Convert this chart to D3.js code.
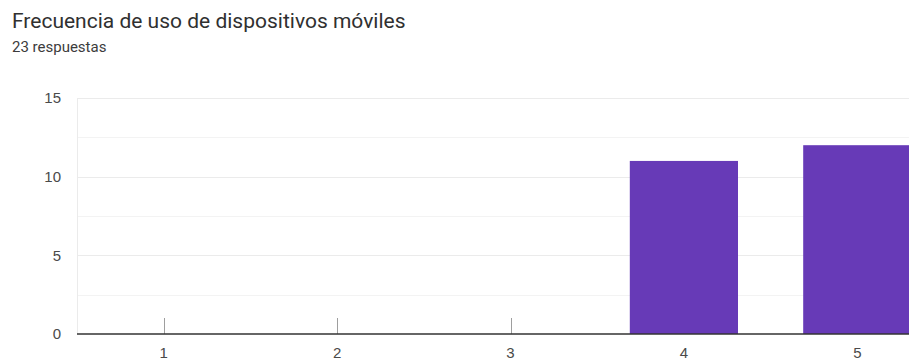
<!DOCTYPE html>
<html lang="es">
<head>
<meta charset="utf-8">
<script src="https://cdn.jsdelivr.net/npm/d3@7"></script>
<style>
  html, body { margin: 0; padding: 0; background: #fff; }
  svg { display: block; }
</style>
</head>
<body>
<svg id="chart" width="910" height="360"></svg>
<script>
// Survey answers: scale 1–5 and number of responses for each
const categories = ["1", "2", "3", "4", "5"];
const counts = [0, 0, 0, 11, 12];
const yTicks = [0, 5, 10, 15];
const yMinorTicks = [2.5, 7.5, 12.5];
const titleText = "Frecuencia de uso de dispositivos móviles";
const subtitleText = "23 respuestas";

const W = 910, H = 360;
const plot = { left: 77, top: 98, bottom: 334, right: 944 };
const clipRight = 909;

const svg = d3.select("#chart");

svg.append("text")
  .attr("x", 12).attr("y", 28)
  .attr("font-family", "Roboto, 'Noto Sans', sans-serif")
  .attr("font-size", 21)
  .attr("fill", "#303030")
  .text(titleText);

svg.append("text")
  .attr("x", 12).attr("y", 52)
  .attr("font-family", "Roboto, 'Noto Sans', sans-serif")
  .attr("font-size", 15)
  .attr("fill", "#3c3c3c")
  .text(subtitleText);

const x = d3.scaleBand()
  .domain(categories)
  .range([plot.left, plot.right])
  .paddingInner(0.376)
  .paddingOuter(0.188);

const y = d3.scaleLinear()
  .domain([0, 15])
  .range([plot.bottom, plot.top]);

svg.append("defs").append("clipPath").attr("id", "plotClip")
  .append("rect")
  .attr("x", plot.left).attr("y", 0)
  .attr("width", clipRight - plot.left).attr("height", H);

const g = svg.append("g").attr("clip-path", "url(#plotClip)");

// minor gridlines
g.selectAll("line.minor").data(yMinorTicks).join("line")
  .attr("class", "minor")
  .attr("x1", plot.left).attr("x2", clipRight)
  .attr("y1", d => Math.round(y(d)) + 0.5).attr("y2", d => Math.round(y(d)) + 0.5)
  .attr("stroke", "#f3f3f3").attr("stroke-width", 1);

// major gridlines
g.selectAll("line.major").data(yTicks.filter(d => d > 0)).join("line")
  .attr("class", "major")
  .attr("x1", plot.left).attr("x2", clipRight)
  .attr("y1", d => Math.round(y(d)) + 0.5).attr("y2", d => Math.round(y(d)) + 0.5)
  .attr("stroke", "#ebebeb").attr("stroke-width", 1);

// faint left frame line
g.append("line")
  .attr("x1", plot.left + 0.5).attr("x2", plot.left + 0.5)
  .attr("y1", y(15)).attr("y2", plot.bottom)
  .attr("stroke", "#ebebeb");

// category tick marks
g.selectAll("line.cat").data(categories).join("line")
  .attr("class", "cat")
  .attr("x1", d => Math.round(x(d) + x.bandwidth() / 2) + 0.5)
  .attr("x2", d => Math.round(x(d) + x.bandwidth() / 2) + 0.5)
  .attr("y1", plot.bottom - 16).attr("y2", plot.bottom)
  .attr("stroke", "#9e9e9e").attr("stroke-width", 1);

// bars
g.selectAll("rect.bar").data(categories.map((c, i) => ({ c, v: counts[i] })).filter(d => d.v > 0)).join("rect")
  .attr("class", "bar")
  .attr("x", d => x(d.c))
  .attr("width", x.bandwidth())
  .attr("y", d => y(d.v))
  .attr("height", d => y(0) - y(d.v))
  .attr("fill", "#673ab7");

// baseline
g.append("line")
  .attr("x1", plot.left).attr("x2", clipRight)
  .attr("y1", plot.bottom).attr("y2", plot.bottom)
  .attr("stroke", "#333333").attr("stroke-width", 1.5);

// y-axis labels
svg.append("g").selectAll("text").data(yTicks).join("text")
  .attr("x", 61)
  .attr("y", d => y(d))
  .attr("dy", "0.35em")
  .attr("text-anchor", "end")
  .attr("font-family", "Arial, 'Liberation Sans', sans-serif")
  .attr("font-size", 15)
  .attr("fill", "#4a4a4a")
  .text(d => d);

// x-axis labels
svg.append("g").selectAll("text").data(categories).join("text")
  .attr("x", d => x(d) + x.bandwidth() / 2)
  .attr("y", 358)
  .attr("text-anchor", "middle")
  .attr("font-family", "Arial, 'Liberation Sans', sans-serif")
  .attr("font-size", 15)
  .attr("fill", "#4a4a4a")
  .text(d => d);
</script>
</body>
</html>
